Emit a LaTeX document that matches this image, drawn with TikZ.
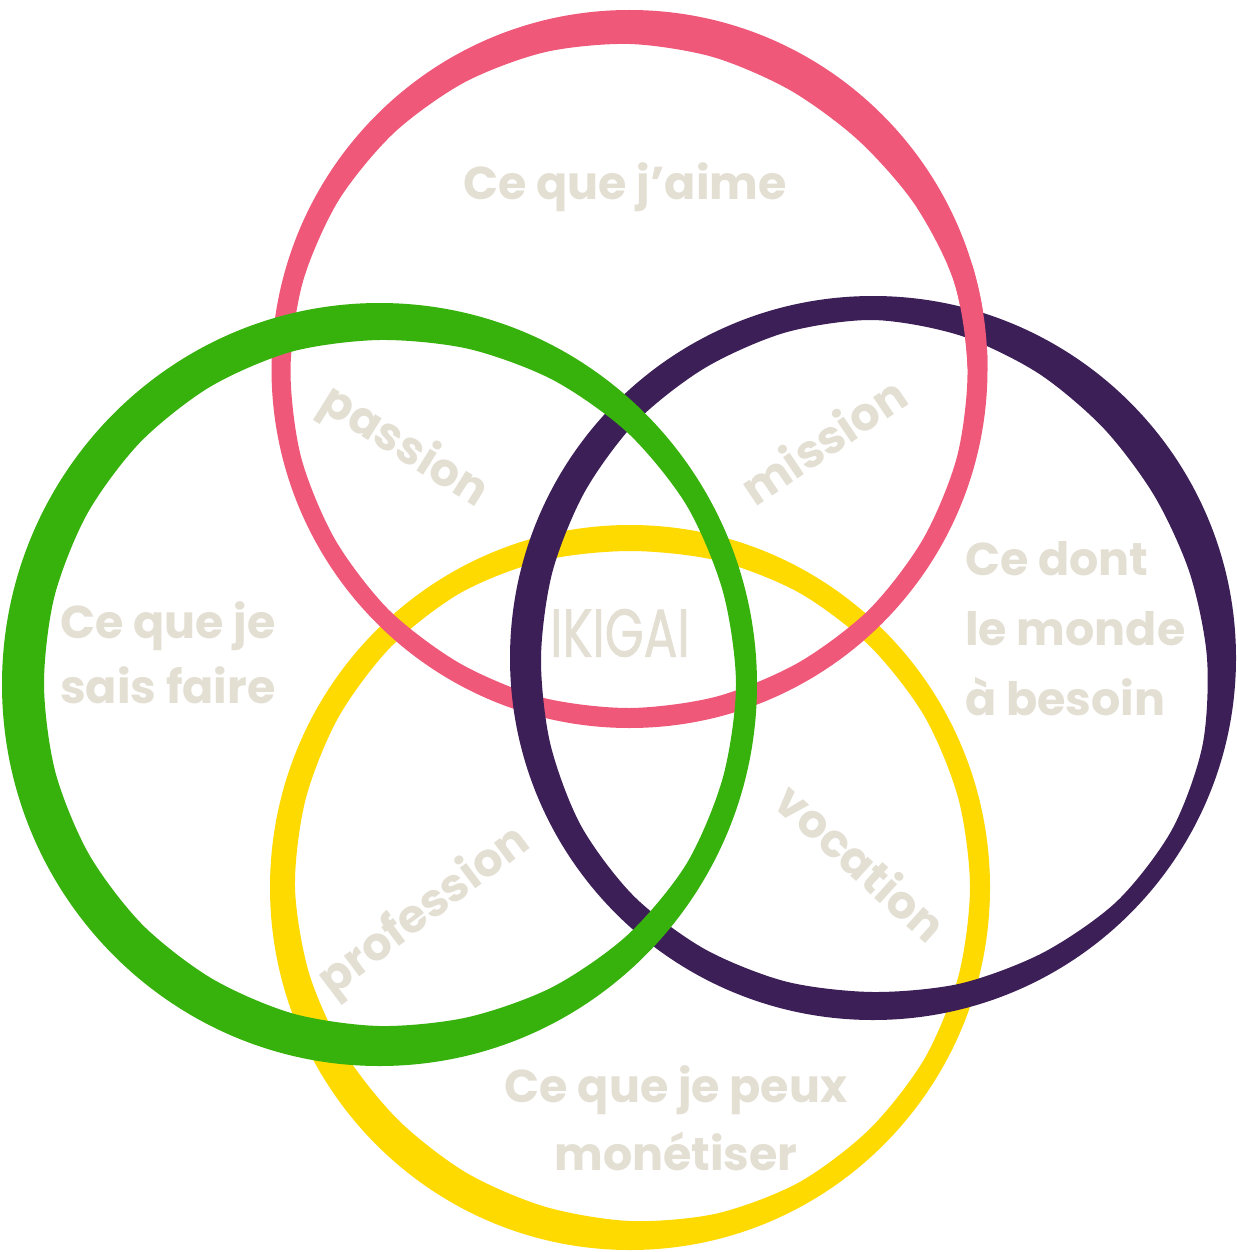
\documentclass[tikz,border=0pt]{standalone}
\usepackage{fontspec}
\usepackage{graphicx}
\setmainfont{Poppins}
\newfontfamily\ikfont[FakeBold=1.2]{Poppins}
\definecolor{ikpink}{HTML}{F0587A}
\definecolor{ikgreen}{HTML}{37B20C}
\definecolor{ikpurple}{HTML}{3D1F58}
\definecolor{ikyellow}{HTML}{FFDA00}
\definecolor{iktext}{HTML}{E3DFD3}
\newcommand\ikring[6]{%
  \foreach \w [count=\i from 0] in {#6} {
    \pgfmathsetmacro\ang{15*\i}
    \coordinate (Q\i) at ({#2+(#4-\w)*cos(\ang)},{#3+(#5-\w)*sin(\ang)});
  }
  \fill[#1, even odd rule] (#2,#3) ellipse [x radius=#4, y radius=#5]
    plot[smooth cycle] coordinates {(Q0)(Q1)(Q2)(Q3)(Q4)(Q5)(Q6)(Q7)(Q8)(Q9)(Q10)(Q11)(Q12)(Q13)(Q14)(Q15)(Q16)(Q17)(Q18)(Q19)(Q20)(Q21)(Q22)(Q23)};
}
\newcommand\pinkring{\ikring{ikpink}{629.5}{369}{358}{359}{20,19,19,19,20,20,20,19,19,18,18,18,19,20,22,25,28,31,34,36,37,35,29,22}}
\begin{document}
\begin{tikzpicture}[x=1pt,y=-1pt,
  lbl/.style={text=iktext, font=\fontsize{46}{50}\selectfont\bfseries, inner sep=0pt},
  ikg/.style={text=iktext, font=\fontsize{50}{54}\selectfont\ikfont, inner sep=0pt}]
\fill[white] (0,0) rectangle (1236,1252);
\useasboundingbox (0,0) rectangle (1236,1252);
% yellow
\ikring{ikyellow}{630}{887.5}{360}{362.5}{20,20,20,21,22,25,29,32,33,33,31,28,25,24,23,22,22,24,26,24,22,21,20,20}
% pink
\pinkring
% purple
\ikring{ikpurple}{873}{658}{363}{362}{29,22,18,18,22,25,28,27,26,25,26,29,31,31,30,28,27,25,24,28,33,37,38,35}
% pink over purple at top right
\begin{scope}
  \clip (935,265) rectangle (1010,365);
  \pinkring
\end{scope}
% green
\ikring{ikgreen}{379.5}{684.5}{377.5}{381.5}{21,22,23,27,32,37,40,41,42,42,42,42,42,41,40,39,38,37,37,34,30,26,23,22}
% labels
\node[lbl, anchor=base] (love) at (625,200) {Ce que j'aime};
\node[lbl, anchor=base west] (good1) at (60,638) {Ce que je};
\node[lbl, anchor=base west] (good2) at (60,703) {sais faire};
\node[lbl, anchor=base west] (need1) at (965,575) {Ce dont};
\node[lbl, anchor=base west] (need2) at (965,645) {le monde};
\node[lbl, anchor=base west] (need3) at (965,715) {à besoin};
\node[lbl, anchor=base] (paid1) at (676,1102) {Ce que je peux};
\node[lbl, anchor=base] (paid2) at (676,1170) {monétiser};
\node[lbl, rotate=-32] (passion) at (404,448) {passion};
\node[lbl, rotate=34] (mission) at (823,440) {mission};
\node[lbl, rotate=37] (profession) at (425,912) {profession};
\node[lbl, rotate=-42] (vocation) at (862,862) {vocation};
\node[ikg] (ikigai) at (620,633) {\scalebox{1}[1.35]{IKIGAI}};
\end{tikzpicture}
\end{document}
